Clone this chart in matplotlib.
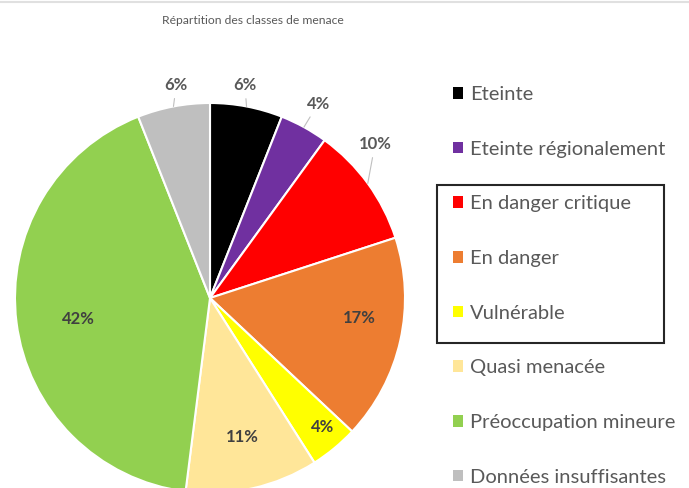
import matplotlib.pyplot as plt
from matplotlib.patches import Patch, Rectangle
from matplotlib.lines import Line2D
import numpy as np

categories = ["Eteinte", "Eteinte régionalement", "En danger critique", "En danger",
              "Vulnérable", "Quasi menacée", "Préoccupation mineure", "Données insuffisantes"]
values = [6, 4, 10, 17, 4, 11, 42, 6]
colors = ["#000000", "#7030A0", "#FF0000", "#ED7D31", "#FFFF00", "#FFE699", "#92D050", "#BFBFBF"]

# label placement: radius (in pie radii), angle shift (deg) from slice middle, outside or not
label_r = [1.106, 1.14, 1.157, 0.77, 0.88, 0.73, 0.685, 1.106]
label_shift = [1.5, -0.3, 7, 5, 1.6, 0.4, 2, -1.8]
outside = [True, True, True, False, False, False, False, True]

plt.rcParams['font.family'] = ['Lato', 'DejaVu Sans']

W, H = 689, 488
fig = plt.figure(figsize=(W / 100, H / 100), dpi=100)
ax = fig.add_axes([0, 0, 1, 1])

R = 195.0
cx, cy = 210.0, 298.0

wedges, _ = ax.pie(values, colors=colors, startangle=90, counterclock=False, radius=1,
                   wedgeprops=dict(edgecolor='white', linewidth=1.5))
ax.set_aspect('auto')
ax.set_xlim(-cx / R, (W - cx) / R)
ax.set_ylim(-(H - cy) / R, cy / R)
ax.axis('off')

for w, v, r, sh, out in zip(wedges, values, label_r, label_shift, outside):
    mid = np.deg2rad((w.theta1 + w.theta2) / 2)
    ang = mid + np.deg2rad(sh)
    pos = (r * np.cos(ang), r * np.sin(ang))
    txt = f"{v}%"
    if out:
        ax.annotate(txt, xy=(np.cos(mid), np.sin(mid)), xytext=pos,
                    ha='center', va='center', fontsize=12, fontweight='bold', color='#595959',
                    arrowprops=dict(arrowstyle='-', color='#BFBFBF', lw=0.8, shrinkA=2, shrinkB=0))
    else:
        ax.text(pos[0], pos[1], txt, ha='center', va='center',
                fontsize=12, fontweight='bold', color='#404040')

handles = [Patch(facecolor=c, edgecolor='none') for c in colors]
fig.legend(handles, categories, loc='upper left',
           bbox_to_anchor=(453 / W, 1 - 86 / H), bbox_transform=fig.transFigure,
           frameon=False, fontsize=14.5, labelcolor='#595959',
           handlelength=0.5, handleheight=0.5, handletextpad=0.36,
           labelspacing=1.87, borderpad=0, borderaxespad=0)

# box around the threatened categories
fig.add_artist(Rectangle((437 / W, 1 - 343 / H), (664 - 437) / W, (343 - 185) / H,
                         transform=fig.transFigure, fill=False, edgecolor='#262626', lw=1.5))

fig.add_artist(Line2D([0, 1], [1 - 1.5 / H, 1 - 1.5 / H], transform=fig.transFigure,
                      color='#E0E0E0', lw=1.5))

fig.text(253 / W, 1 - 20 / H, "Répartition des classes de menace", ha='center', va='center',
         fontsize=8.7, color='#595959')

fig.savefig("out.png", dpi=100)
